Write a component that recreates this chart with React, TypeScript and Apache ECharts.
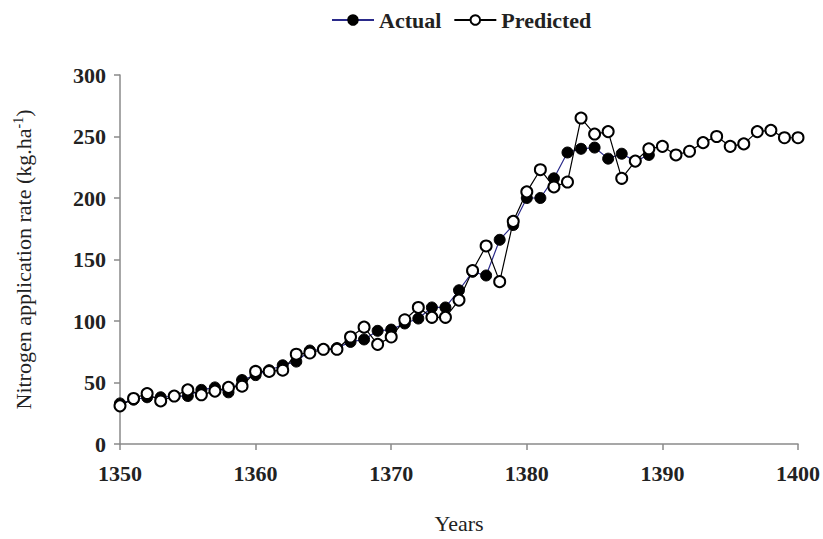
import React, { useEffect, useRef } from "react";
import * as echarts from "echarts";

const actualYears = [1350,1351,1352,1353,1354,1355,1356,1357,1358,1359,1360,1361,1362,1363,1364,1365,1366,1367,1368,1369,1370,1371,1372,1373,1374,1375,1376,1377,1378,1379,1380,1381,1382,1383,1384,1385,1386,1387,1388,1389];
const actualValues = [33,36,38,38,39,39,44,46,42,52,56,60,64,67,76,77,78,83,85,92,93,98,102,111,111,125,140,137,166,178,200,200,216,237,240,241,232,236,230,235];

const predictedYears = [1350,1351,1352,1353,1354,1355,1356,1357,1358,1359,1360,1361,1362,1363,1364,1365,1366,1367,1368,1369,1370,1371,1372,1373,1374,1375,1376,1377,1378,1379,1380,1381,1382,1383,1384,1385,1386,1387,1388,1389,1390,1391,1392,1393,1394,1395,1396,1397,1398,1399,1400];
const predictedValues = [31,37,41,35,39,44,40,43,46,47,59,59,60,73,74,77,77,87,95,81,87,101,111,103,103,117,141,161,132,181,205,223,209,213,265,252,254,216,230,240,242,235,238,245,250,242,244,254,255,249,249];

const FONT = "'Liberation Serif', 'Times New Roman', serif";

export default function App() {
  const ref = useRef<HTMLDivElement>(null);
  useEffect(() => {
    if (!ref.current) return;
    const chart = echarts.init(ref.current, null, { renderer: "svg" });
    const axisLine = { show: true, lineStyle: { color: "#8a8a8a", width: 1.5 } };
    const axisTick = { show: true, inside: false, length: 6, lineStyle: { color: "#8a8a8a", width: 1.5 } };
    chart.setOption({
      animation: false,
      backgroundColor: "#ffffff",
      legend: {
        top: 4,
        left: 326,
        itemWidth: 42,
        itemHeight: 12,
        itemGap: 12,
        textStyle: { fontFamily: FONT, fontSize: 22, fontWeight: "bold", color: "#222" },
        data: ["Actual", "Predicted"],
      },
      grid: { left: 120, right: 25, top: 75, bottom: 91 },
      xAxis: {
        type: "value",
        min: 1350,
        max: 1400,
        interval: 10,
        name: "Years",
        nameLocation: "middle",
        nameGap: 68,
        nameTextStyle: { fontFamily: FONT, fontSize: 22, color: "#222" },
        axisLine,
        axisTick,
        axisLabel: {
          fontFamily: FONT, fontSize: 22, fontWeight: "bold", color: "#222", margin: 18,
          formatter: (v: number) => String(v),
        },
        splitLine: { show: false },
      },
      yAxis: {
        type: "value",
        min: 0,
        max: 300,
        interval: 50,
        name: "{a|Nitrogen application rate (kg.ha}{s|-1}{a|)}",
        nameLocation: "middle",
        nameGap: 85,
        nameRotate: 90,
        nameTextStyle: {
          fontFamily: FONT,
          fontSize: 22,
          color: "#222",
          rich: {
            a: { fontFamily: FONT, fontSize: 22, color: "#222" },
            s: { fontFamily: FONT, fontSize: 14, color: "#222", verticalAlign: "top", padding: [0, 0, 10, 0] },
          },
        },
        axisLine,
        axisTick,
        axisLabel: { fontFamily: FONT, fontSize: 22, fontWeight: "bold", color: "#222", margin: 14 },
        splitLine: { show: false },
      },
      series: [
        {
          name: "Actual",
          type: "line",
          data: actualYears.map((y, i) => [y, actualValues[i]]),
          symbol: "circle",
          symbolSize: 11,
          showSymbol: true,
          lineStyle: { color: "#2a2a8a", width: 1.2 },
          itemStyle: { color: "#000000", borderColor: "#000000", borderWidth: 1 },
          z: 2,
        },
        {
          name: "Predicted",
          type: "line",
          data: predictedYears.map((y, i) => [y, predictedValues[i]]),
          symbol: "circle",
          symbolSize: 11,
          showSymbol: true,
          lineStyle: { color: "#000000", width: 1.2 },
          itemStyle: { color: "#ffffff", borderColor: "#000000", borderWidth: 2 },
          z: 3,
        },
      ],
    });
    return () => chart.dispose();
  }, []);
  return <div ref={ref} style={{ width: 823, height: 539, position: "absolute", left: 0, top: 0 }} />;
}
